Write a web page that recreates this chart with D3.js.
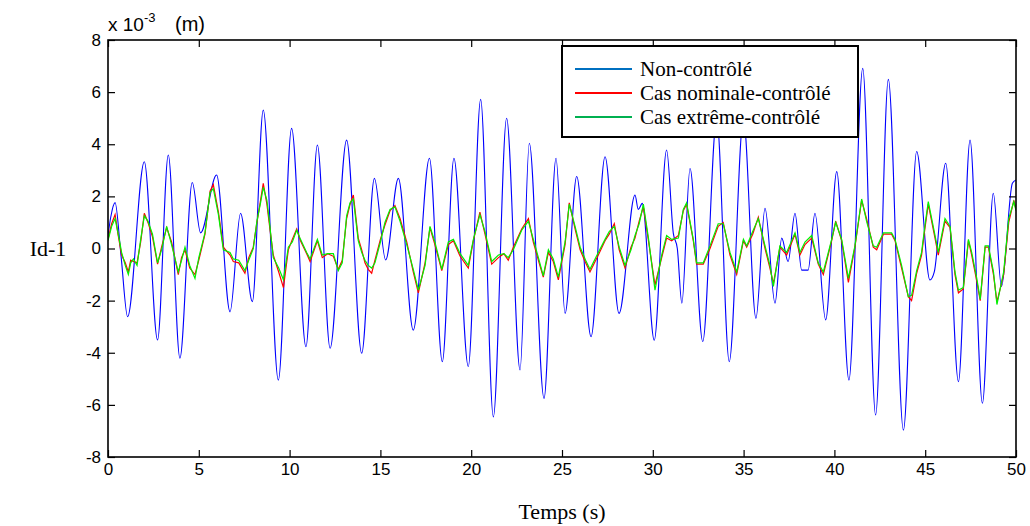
<!DOCTYPE html>
<html><head><meta charset="utf-8">
<script src="https://cdn.jsdelivr.net/npm/d3@7"></script>
<style>body{margin:0;background:#fff}</style>
</head><body>
<svg id="chart" width="1030" height="526"></svg>
<script>
// ---- data (values in 1e-3 m) ----
const seriesNames = ["Non-contrôlé", "Cas nominale-contrôlé", "Cas extrême-contrôlé"];
const xTicks = [0,5,10,15,20,25,30,35,40,45,50];
const xTickLabels = ["0","5","10","15","20","25","30","35","40","45","50"];
const yTicks = [-8,-6,-4,-2,0,2,4,6,8];
const yTickLabels = ["-8","-6","-4","-2","0","2","4","6","8"];

const blueTime = [0,0.15,0.39,0.72,1.08,2.0,2.73,3.32,3.96,4.64,5.1,5.98,6.72,7.3,7.95,8.55,9.38,10.11,10.9,11.53,12.23,13.14,13.97,14.67,15.29,15.99,16.81,17.7,18.41,19.05,19.84,20.52,21.22,21.95,22.69,23.2,24.01,24.67,25.17,25.81,26.6,27.37,28.14,29.02,29.2,29.42,30.08,30.76,31.13,31.35,31.6,32.05,32.75,33.52,34.21,34.99,35.68,36.18,36.73,37.1,37.45,37.83,38.2,38.55,38.93,39.52,40.13,40.8,41.56,42.27,42.97,43.8,44.53,45.26,45.5,46.13,46.83,47.47,48.15,48.75,49.2,49.8,50];
const blueValues = [0.5,1.2,1.76,-0.3,-2.62,3.33,-3.51,3.59,-4.21,2.53,0.6,2.82,-2.43,1.35,-2.04,5.31,-5.05,4.61,-3.77,3.97,-3.83,4.16,-4.02,2.69,-0.44,2.69,-3.13,3.46,-4.34,3.46,-4.53,5.72,-6.46,5.0,-4.66,4.04,-5.75,3.46,-2.49,2.76,-3.38,3.52,-2.49,2.05,1.5,1.73,-3.52,3.78,0.58,0.0,-2.1,3.07,-3.57,5.0,-4.34,5.0,-2.68,1.54,-2.1,0.4,-0.5,1.35,-0.83,-0.83,1.35,-2.74,2.95,-5.05,6.91,-6.39,6.49,-6.97,3.72,-1.21,-0.9,3.27,-5.11,4.16,-5.94,2.12,-1.46,2.5,2.63];

const ctrlTime = [0,0.2,0.39,0.55,0.75,0.95,1.12,1.25,1.4,1.6,1.8,2.0,2.2,2.45,2.73,2.95,3.23,3.5,3.87,4.05,4.24,4.5,4.79,5.0,5.34,5.62,5.8,6.08,6.35,6.72,6.9,7.2,7.54,7.75,8.0,8.19,8.4,8.55,8.75,8.9,9.1,9.4,9.66,9.93,10.15,10.39,10.6,10.94,11.13,11.53,11.8,12.1,12.41,12.68,12.9,13.14,13.33,13.51,13.78,13.97,14.15,14.33,14.52,14.7,15.0,15.25,15.53,15.8,16.08,16.45,16.81,17.09,17.46,17.73,18.0,18.38,18.74,19.02,19.39,19.84,20.12,20.48,20.76,21.13,21.5,21.8,22.04,22.32,22.78,23.15,23.42,23.7,23.97,24.25,24.52,24.8,25.17,25.4,25.72,26.0,26.3,26.54,27.0,27.37,27.6,27.88,28.15,28.47,28.8,29.02,29.25,29.48,29.76,30.12,30.49,30.76,31.04,31.41,31.68,31.86,32.23,32.41,32.78,33.15,33.6,33.88,34.25,34.62,34.99,35.17,35.5,35.81,36.18,36.45,36.64,37.0,37.37,37.83,38.1,38.38,38.75,39.11,39.39,39.85,40.07,40.4,40.77,41.13,41.5,41.77,42.14,42.33,42.7,43.15,43.34,43.7,44.07,44.25,44.53,44.8,44.99,45.17,45.54,45.72,46.09,46.37,46.64,46.83,47.1,47.38,47.56,47.84,48.03,48.3,48.48,48.76,48.95,49.32,49.6,49.88,50];
const redValues = [0.35,0.95,1.3,0.55,-0.25,-0.55,-0.9,-0.45,-0.5,-0.55,0.25,1.35,1.0,0.45,-0.6,0.05,0.8,0.25,-1.0,-0.35,-0.05,-0.75,-1.0,-0.45,0.55,2.2,2.45,1.4,0.05,-0.25,-0.5,-0.55,-0.95,-0.35,0.05,0.95,1.85,2.5,1.7,0.85,-0.25,-0.9,-1.5,-0.05,0.35,0.75,0.3,-0.2,-0.5,0.3,-0.35,-0.2,-0.3,-0.8,-0.45,1.15,1.7,2.05,0.4,-0.05,-0.55,-0.8,-0.95,-0.45,0.35,0.9,1.45,1.65,1.15,0.25,-0.9,-1.7,-0.55,0.8,0.15,-0.85,0.15,0.3,-0.3,-0.75,0.3,1.4,0.55,-0.6,-0.35,-0.2,-0.45,0.05,0.75,1.15,0.25,-0.45,-1.1,-0.15,-0.5,-1.2,0.15,1.75,0.75,-0.05,-0.55,-0.9,-0.25,0.3,0.55,0.95,-0.05,-0.75,0.05,0.4,1.05,1.6,0.3,-1.4,-0.35,0.4,0.3,0.5,1.45,1.7,0.3,-0.6,-0.6,0.0,0.85,1.0,-0.25,-1.0,0.3,0.05,0.55,1.2,0.0,-0.75,-1.35,0.05,-0.25,0.55,-0.25,0.15,0.4,-0.6,-1.0,0.3,1.05,0.3,-1.3,0.05,1.85,1.15,0.05,-0.05,0.55,0.55,0.3,-0.75,-1.85,-2.0,-0.95,-0.25,0.8,1.7,0.4,-0.25,1.05,0.8,-1.0,-1.7,-1.55,0.3,-0.25,-1.25,-2.0,0.05,0.05,-1.0,-2.05,-1.0,1.0,1.85,1.5];
const greenValues = [0.3,0.85,1.15,0.6,-0.15,-0.65,-1.0,-0.55,-0.4,-0.65,0.35,1.25,1.05,0.55,-0.55,-0.05,0.85,0.15,-0.9,-0.45,0.05,-0.65,-1.15,-0.35,0.6,2.15,2.3,1.3,-0.05,-0.15,-0.4,-0.45,-0.85,-0.45,0.0,1.0,1.75,2.35,1.85,0.95,-0.35,-0.75,-1.2,0.05,0.25,0.7,0.35,-0.15,-0.4,0.35,-0.25,-0.2,-0.2,-0.85,-0.55,1.25,1.75,1.9,0.3,-0.15,-0.45,-0.65,-0.75,-0.55,0.25,1.0,1.5,1.6,1.05,0.15,-0.8,-1.6,-0.65,0.85,0.25,-0.8,0.25,0.35,-0.2,-0.65,0.35,1.3,0.65,-0.5,-0.25,-0.2,-0.35,-0.05,0.7,1.05,0.35,-0.35,-1.05,-0.05,-0.4,-1.1,0.25,1.7,0.85,0.05,-0.45,-0.8,-0.15,0.35,0.65,0.85,0.05,-0.65,-0.05,0.5,0.95,1.7,0.4,-1.6,-0.25,0.5,0.35,0.4,1.5,1.75,0.35,-0.55,-0.55,0.1,0.95,0.95,-0.15,-0.9,0.35,0.1,0.65,1.15,0.1,-0.65,-1.45,0.1,-0.15,0.6,-0.15,0.25,0.5,-0.55,-0.9,0.35,1.0,0.35,-1.15,0.1,1.9,1.05,0.1,0.05,0.6,0.6,0.35,-0.65,-1.85,-1.8,-0.85,-0.15,0.9,1.8,0.5,-0.15,1.15,0.85,-0.9,-1.6,-1.5,0.35,-0.15,-1.15,-1.95,0.1,0.1,-0.9,-2.15,-0.9,1.15,1.8,1.45];

// ---- layout ----
const svg = d3.select("#chart");
const L = 108, R = 1016, T = 40, B = 457;
const x = d3.scaleLinear().domain([0, 50]).range([L, R]);
const y = d3.scaleLinear().domain([-8, 8]).range([B, T]);

svg.append("defs").append("clipPath").attr("id","clip")
  .append("rect").attr("x",L).attr("y",T).attr("width",R-L).attr("height",B-T);

const blueData = blueTime.map((t,i) => [t, blueValues[i]]);
const redData = ctrlTime.map((t,i) => [t, redValues[i]]);
const greenData = ctrlTime.map((t,i) => [t, greenValues[i]]);
const smooth = d3.line().x(d => x(d[0])).y(d => y(d[1])).curve(d3.curveMonotoneX);
const straight = d3.line().x(d => x(d[0])).y(d => y(d[1])).curve(d3.curveLinear);

const lines = svg.append("g").attr("clip-path","url(#clip)");
lines.append("path").attr("d", smooth(blueData))
  .attr("fill","none").attr("stroke","#0000ff").attr("stroke-width",1.1);
lines.append("path").attr("d", straight(redData))
  .attr("fill","none").attr("stroke","#ff0000").attr("stroke-width",1.2);
lines.append("path").attr("d", straight(greenData))
  .attr("fill","none").attr("stroke","#00f000").attr("stroke-width",1.2);

// ---- axes ----
const tickFont = "'Liberation Sans', Arial, sans-serif";
const xb = svg.append("g").attr("transform",`translate(0,${B})`)
  .call(d3.axisBottom(x).tickValues(xTicks).tickSizeInner(-7).tickSizeOuter(0).tickPadding(6)
        .tickFormat((d,i) => xTickLabels[i]));
const yl = svg.append("g").attr("transform",`translate(${L},0)`)
  .call(d3.axisLeft(y).tickValues(yTicks).tickSizeInner(-7).tickSizeOuter(0).tickPadding(7)
        .tickFormat((d,i) => yTickLabels[i]));
const xt = svg.append("g").attr("transform",`translate(0,${T})`)
  .call(d3.axisTop(x).tickValues(xTicks).tickSizeInner(-7).tickSizeOuter(0).tickFormat(""));
const yr = svg.append("g").attr("transform",`translate(${R},0)`)
  .call(d3.axisRight(y).tickValues(yTicks).tickSizeInner(-7).tickSizeOuter(0).tickFormat(""));
[xb,yl,xt,yr].forEach(g => {
  g.select(".domain").remove();
  g.selectAll("line").attr("stroke","#000").attr("stroke-width",1.2);
  g.selectAll("text").attr("font-family",tickFont).attr("font-size",17).attr("fill","#000");
});
svg.append("rect").attr("x",L).attr("y",T).attr("width",R-L).attr("height",B-T)
  .attr("fill","none").attr("stroke","#000").attr("stroke-width",1.6);

// exponent label
const ex = svg.append("text").attr("x",L).attr("y",31)
  .attr("font-family",tickFont).attr("font-size",19).attr("fill","#000");
ex.append("tspan").text("x 10");
ex.append("tspan").attr("dy",-9).attr("font-size",13).text("-3");
ex.append("tspan").attr("x",175).attr("y",31).attr("font-size",20).text("(m)");

// axis titles
const serif = "'Liberation Serif', 'Times New Roman', serif";
svg.append("text").attr("x",48).attr("y",256).attr("text-anchor","middle")
  .attr("font-family",serif).attr("font-size",22).text("Id-1");
svg.append("text").attr("x",(L+R)/2).attr("y",519).attr("text-anchor","middle")
  .attr("font-family",serif).attr("font-size",22).text("Temps (s)");

// legend
const legColors = ["#0070c0","#ff0000","#00b050"];
const lg = svg.append("g");
lg.append("rect").attr("x",562).attr("y",46).attr("width",296).attr("height",91)
  .attr("fill","#fff").attr("stroke","#000").attr("stroke-width",2);
seriesNames.forEach((n,i) => {
  const yy = 69 + i*24;
  lg.append("line").attr("x1",575).attr("x2",632).attr("y1",yy).attr("y2",yy)
    .attr("stroke",legColors[i]).attr("stroke-width",2);
  lg.append("text").attr("x",640).attr("y",yy+7).attr("font-family",serif)
    .attr("font-size",21).attr("fill","#000").text(n);
});
</script>
</body></html>
